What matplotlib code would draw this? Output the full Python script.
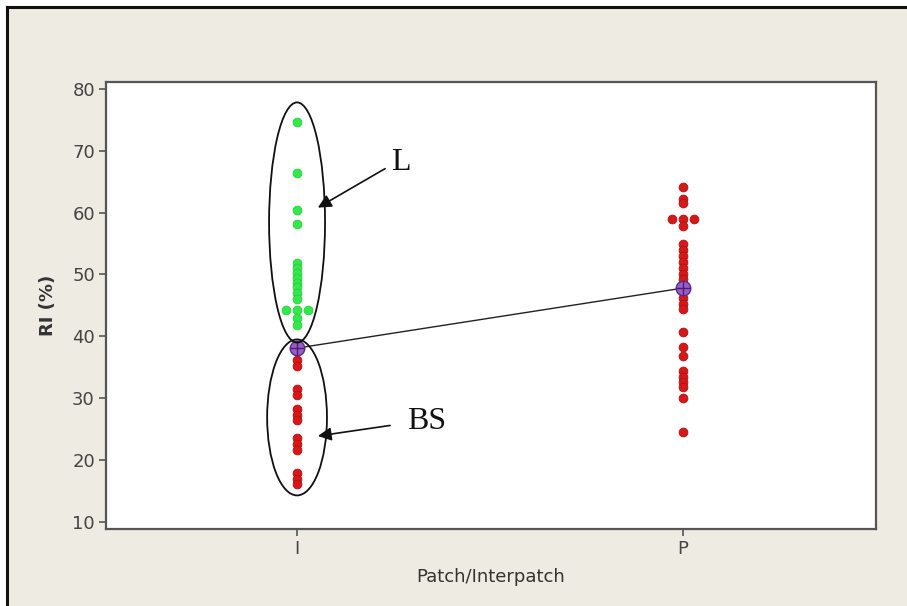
import numpy as np
import matplotlib
matplotlib.use("Agg")
import matplotlib.pyplot as plt
from matplotlib.patches import Ellipse, Rectangle
from matplotlib.lines import Line2D

# Groups on the x axis
groups = ["I", "P"]

# RI (%) values, interpatch: upper subgroup (L) and lower subgroup (BS)
interpatch_L = [74.6, 66.4, 60.4, 58.2, 51.8, 51.1, 50.3, 49.5, 48.7, 47.9,
                47.0, 46.0, 44.2, 44.2, 44.2, 42.9, 41.8]
interpatch_BS = [37.8, 36.2, 35.2, 31.5, 30.6, 28.2, 27.3, 26.5, 23.6, 22.6,
                 21.6, 17.9, 17.0, 16.1]

# RI (%) values, patch
patch = [64.1, 62.2, 61.5, 59.0, 59.0, 59.0, 57.8, 55.0, 54.0, 53.0, 52.0,
         51.0, 50.0, 49.2, 48.2, 47.2, 46.2, 45.3, 44.4, 40.7, 38.2, 36.8,
         34.4, 33.5, 32.7, 31.8, 30.1, 24.6]

# Group means shown with the connect line
group_means = [38.1, 47.8]

yticks = [10, 20, 30, 40, 50, 60, 70, 80]

RED = "#d81818"
RED_EDGE = "#b01010"
GREEN = "#33e84a"
GREEN_EDGE = "#24d438"
BG = "#eeebe2"


def tie_offsets(values, step=0.029):
    """Place identical values side by side, centred on the group position."""
    values = np.asarray(values)
    offs = np.zeros(len(values))
    for v in np.unique(values):
        idx = np.where(values == v)[0]
        k = len(idx)
        offs[idx] = (np.arange(k) - (k - 1) / 2) * step
    return offs


fig = plt.figure(figsize=(9.07, 6.06), dpi=100, facecolor="white")

# Beige window with a dark frame on its top and left edges
fig.patches.append(Rectangle((7 / 907, 0), 1.0, 1 - 7 / 606,
                             transform=fig.transFigure, facecolor=BG,
                             edgecolor="none", zorder=-10))
fig.lines.append(Line2D([7 / 907, 7 / 907], [0, 1 - 7 / 606],
                        transform=fig.transFigure, color="#111111", lw=2.2))
fig.lines.append(Line2D([7 / 907, 1], [1 - 7 / 606, 1 - 7 / 606],
                        transform=fig.transFigure, color="#111111", lw=2.2))

ax = fig.add_axes([106 / 907, 77 / 606, 770 / 907, 447 / 606])
ax.set_facecolor("white")

xpos = {g: i + 1 for i, g in enumerate(groups)}

dot = dict(s=40, linewidths=0.6, zorder=3)
ax.scatter(xpos["I"] + tie_offsets(interpatch_L), interpatch_L,
           color=GREEN, edgecolors=GREEN_EDGE, **dot)
ax.scatter(xpos["I"] + tie_offsets(interpatch_BS), interpatch_BS,
           color=RED, edgecolors=RED_EDGE, **dot)
ax.scatter(xpos["P"] + tie_offsets(patch), patch,
           color=RED, edgecolors=RED_EDGE, **dot)

# Mean connect line and mean symbols
mx = [xpos[g] for g in groups]
ax.plot(mx, group_means, color="#222222", lw=1.0, zorder=4)
ax.plot(mx, group_means, ls="none", marker="o", ms=10.5, mfc="#9a5cc6",
        mec="#5a2a85", mew=1.0, zorder=5)
ax.plot(mx, group_means, ls="none", marker="+", ms=10.5, mec="#4a1f70",
        mew=1.0, zorder=6)

# Subgroup outlines
ax.add_patch(Ellipse((1.0, 58.4), 0.145, 38.8, fill=False, ec="#111111",
                     lw=1.3, zorder=6))
ax.add_patch(Ellipse((1.0, 26.9), 0.155, 25.2, fill=False, ec="#111111",
                     lw=1.3, zorder=6))

arrow = dict(arrowstyle="-|>", color="#111111", lw=1.2, mutation_scale=20,
             shrinkA=0, shrinkB=0)
ax.annotate("", xy=(1.054, 60.8), xytext=(1.228, 67.1), arrowprops=arrow,
            zorder=7)
ax.annotate("", xy=(1.054, 23.9), xytext=(1.241, 25.6), arrowprops=arrow,
            zorder=7)
ax.text(1.268, 68.1, "L", fontsize=23, family="Liberation Serif",
        ha="center", va="center", color="#111111")
ax.text(1.337, 26.3, "BS", fontsize=23, family="Liberation Serif",
        ha="center", va="center", color="#111111")

ax.set_xlim(0.505, 2.5)
ax.set_ylim(8.87, 81.1)
ax.set_xticks(mx)
ax.set_xticklabels(groups)
ax.set_yticks(yticks)

for s in ax.spines.values():
    s.set_color("#555555")
    s.set_linewidth(1.6)

ax.tick_params(axis="both", direction="out", length=5, width=1.2,
               color="#555555", labelcolor="#444444", labelsize=13, pad=3)

ax.set_xlabel("Patch/Interpatch", fontsize=13, color="#333333")
ax.set_ylabel("RI (%)", fontsize=13, fontweight="bold", color="#333333")
ax.xaxis.set_label_coords(0.5, -0.088)
ax.yaxis.set_label_coords(-0.064, 0.5)

fig.savefig("out.png", dpi=100, facecolor=fig.get_facecolor())
